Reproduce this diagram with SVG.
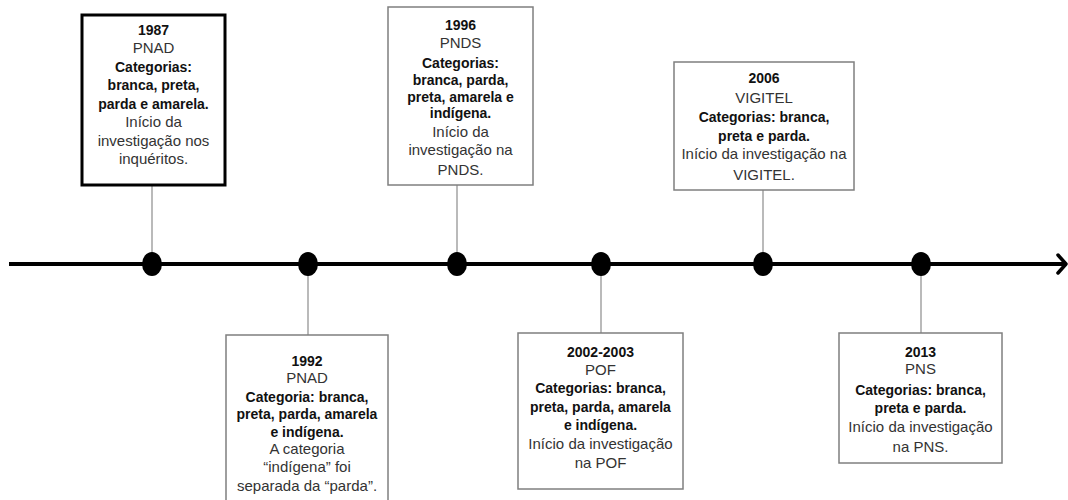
<svg xmlns="http://www.w3.org/2000/svg" width="1068" height="500" viewBox="0 0 1068 500">
<style>
.box{fill:#fff;stroke:#7f7f7f;stroke-width:1.5}
.thick{fill:#fff;stroke:#000;stroke-width:3}
text{font-family:"Liberation Sans",Arial,sans-serif;font-size:15px;text-anchor:middle;fill:#333}
.b{font-weight:bold;font-size:14px;fill:#111}
.conn{stroke:#8c8c8c;stroke-width:1.2;fill:none}
.dot{fill:#000}
</style>
<rect width="1068" height="500" fill="#fff"/>
<g id="connectors">
<line x1="9" y1="264" x2="1064" y2="264" stroke="#000" stroke-width="4"/>
<polyline points="1058,255 1066,264 1058,273" fill="none" stroke="#000" stroke-width="3.5" stroke-linecap="round" stroke-linejoin="round"/>
<line class="conn" x1="152" y1="185" x2="152" y2="264"/>
<line class="conn" x1="457" y1="185" x2="457" y2="264"/>
<line class="conn" x1="763" y1="190" x2="763" y2="264"/>
<line class="conn" x1="308" y1="264" x2="308" y2="335"/>
<line class="conn" x1="601" y1="264" x2="601" y2="333"/>
<line class="conn" x1="921" y1="264" x2="921" y2="333"/>
<ellipse class="dot" cx="152" cy="264" rx="10" ry="12"/>
<ellipse class="dot" cx="308" cy="264" rx="10" ry="12"/>
<ellipse class="dot" cx="457" cy="264" rx="10" ry="12"/>
<ellipse class="dot" cx="601" cy="264" rx="10" ry="12"/>
<ellipse class="dot" cx="763" cy="264" rx="10" ry="12"/>
<ellipse class="dot" cx="921" cy="264" rx="10" ry="12"/>
</g>
<g id="n1987">
<rect class="thick" x="82" y="15" width="143" height="170"/>
<text x="153.5" y="35" class="b">1987</text>
<text x="153.5" y="53">PNAD</text>
<text x="153.5" y="72" class="b">Categorias:</text>
<text x="153.5" y="90" class="b">branca, preta,</text>
<text x="153.5" y="109" class="b">parda e amarela.</text>
<text x="153.5" y="127">Início da</text>
<text x="153.5" y="146">investigação nos</text>
<text x="153.5" y="164">inquéritos.</text>
</g>
<g id="n1996">
<rect class="box" x="388" y="7" width="145" height="178"/>
<text x="460.5" y="30" class="b">1996</text>
<text x="460.5" y="48">PNDS</text>
<text x="460.5" y="68" class="b">Categorias:</text>
<text x="460.5" y="85" class="b">branca, parda,</text>
<text x="460.5" y="102" class="b">preta, amarela e</text>
<text x="460.5" y="118" class="b">indígena.</text>
<text x="460.5" y="137">Início da</text>
<text x="460.5" y="155">investigação na</text>
<text x="460.5" y="175">PNDS.</text>
</g>
<g id="n2006">
<rect class="box" x="674" y="62" width="180" height="128"/>
<text x="764" y="83" class="b">2006</text>
<text x="764" y="103">VIGITEL</text>
<text x="764" y="122" class="b">Categorias: branca,</text>
<text x="764" y="141" class="b">preta e parda.</text>
<text x="764" y="159">Início da investigação na</text>
<text x="764" y="180">VIGITEL.</text>
</g>
<g id="n1992">
<rect class="box" x="226" y="335" width="162" height="170"/>
<text x="307" y="366" class="b">1992</text>
<text x="307" y="383">PNAD</text>
<text x="307" y="402" class="b">Categoria: branca,</text>
<text x="307" y="419" class="b">preta, parda, amarela</text>
<text x="307" y="437" class="b">e indígena.</text>
<text x="307" y="454">A categoria</text>
<text x="307" y="472">“indígena” foi</text>
<text x="307" y="491">separada da “parda”.</text>
</g>
<g id="n2002">
<rect class="box" x="518" y="333" width="165" height="156"/>
<text x="600.5" y="357" class="b">2002-2003</text>
<text x="600.5" y="375">POF</text>
<text x="600.5" y="393" class="b">Categorias: branca,</text>
<text x="600.5" y="412" class="b">preta, parda, amarela</text>
<text x="600.5" y="430" class="b">e indígena.</text>
<text x="600.5" y="449">Início da investigação</text>
<text x="600.5" y="468">na POF</text>
</g>
<g id="n2013">
<rect class="box" x="839" y="333" width="163" height="130"/>
<text x="920.5" y="357" class="b">2013</text>
<text x="920.5" y="374">PNS</text>
<text x="920.5" y="395" class="b">Categorias: branca,</text>
<text x="920.5" y="413" class="b">preta e parda.</text>
<text x="920.5" y="432">Início da investigação</text>
<text x="920.5" y="452">na PNS.</text>
</g>
</svg>
